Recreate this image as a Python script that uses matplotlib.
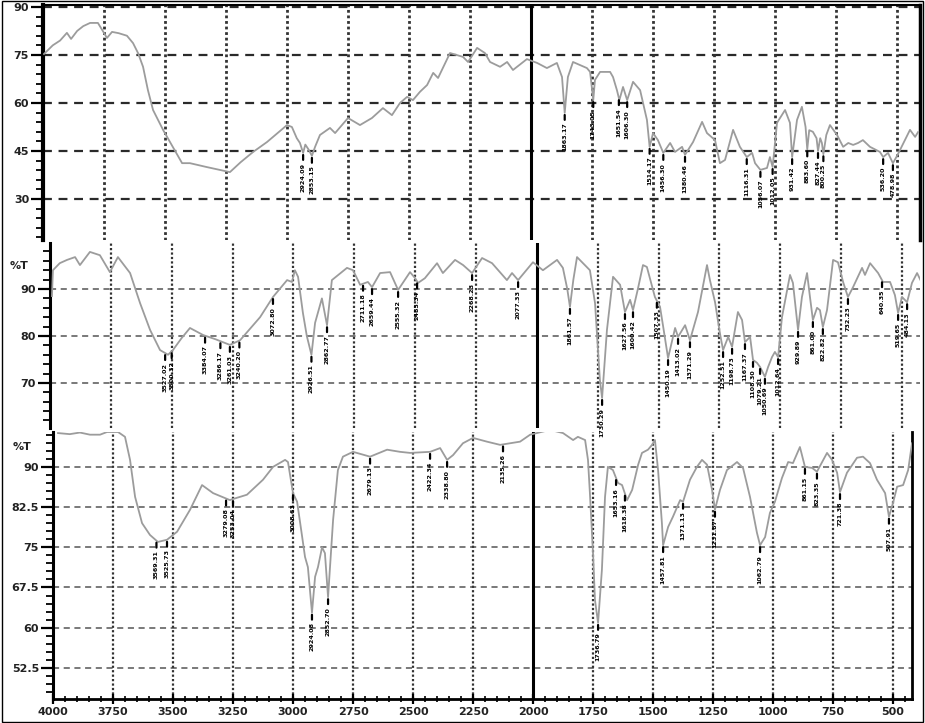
import numpy as np
import matplotlib
matplotlib.use("Agg")
import matplotlib.pyplot as plt
from matplotlib.ticker import FixedLocator, FixedFormatter, MultipleLocator
from matplotlib.patches import Rectangle

# ---------------- data ----------------
top_wn = [3996, 3960, 3930, 3902, 3885, 3860, 3835, 3807, 3775, 3755, 3738, 3717, 3690, 3656, 3631,
          3610, 3590, 3570, 3549, 3508, 3470, 3430, 3398, 3330, 3234, 3190, 3139, 3082, 3000, 2980,
          2960, 2947, 2934, 2925, 2912, 2898, 2885, 2865, 2824, 2803, 2750, 2701, 2652, 2607, 2570,
          2537, 2508, 2484, 2455, 2426, 2401, 2381, 2332, 2279, 2258, 2221, 2189, 2168, 2127, 2098,
          2074, 2017, 1975, 1935, 1894, 1873, 1862, 1849, 1828, 1771, 1758, 1745, 1738, 1717, 1676,
          1664, 1648, 1638, 1623, 1606, 1582, 1553, 1525, 1514, 1500, 1480, 1458, 1430, 1410, 1381,
          1369, 1336, 1299, 1279, 1246, 1226, 1205, 1172, 1144, 1116, 1094, 1082, 1060, 1033, 1021,
          1010, 992, 959, 939, 930, 910, 890, 875, 868, 860, 845, 830, 824, 815, 808,
          802, 790, 775, 746, 721, 700, 680, 660, 640, 611, 570, 557, 537, 517, 500,
          488, 447, 426, 414]
top_t = [75.3, 78.0, 79.5, 81.9, 80.0, 82.5, 84.0, 85.0, 85.0, 82.5, 80.3, 82.2, 81.8, 81.0, 78.7,
         75.5, 71.3, 64.0, 57.8, 51.6, 46.5, 41.2, 41.2, 40.0, 38.4, 41.5, 44.7, 47.8, 53.1, 52.5,
         49.0, 47.5, 44.4, 47.0, 45.5, 43.5, 46.3, 50.0, 52.2, 50.6, 55.3, 53.1, 55.3, 58.4, 56.2,
         60.0, 61.9, 60.9, 63.5, 65.6, 69.4, 67.8, 75.6, 74.4, 72.8, 77.2, 75.6, 72.8, 71.3, 72.8,
         70.3, 73.7, 72.5, 70.9, 72.5, 68.1, 56.9, 68.1, 72.8, 70.9, 69.7, 60.9, 67.2, 69.7, 69.7,
         68.1, 64.0, 60.9, 65.0, 60.9, 66.6, 64.0, 54.7, 46.3, 50.6, 48.4, 44.4, 47.5, 44.7, 46.3,
         43.8, 47.8, 54.1, 50.6, 48.4, 41.2, 42.2, 51.6, 46.3, 43.1, 44.4, 41.2, 39.1, 39.7, 43.1,
         40.0, 53.8, 57.8, 53.8, 43.1, 54.7, 58.8, 52.5, 45.5, 51.5, 51.0, 49.0, 45.0, 49.0, 47.5,
         44.0, 50.0, 53.1, 50.0, 46.3, 47.5, 46.9, 47.5, 48.4, 46.3, 44.7, 43.1, 44.4, 41.2, 43.5,
         45.3, 51.6, 49.4, 50.9]

mid_wn = [3992, 3988, 3960, 3930, 3897, 3877, 3836, 3795, 3754, 3721, 3671, 3630, 3589, 3548, 3515,
          3495, 3460, 3425, 3371, 3320, 3261, 3219, 3137, 3084, 3026, 3006, 2994, 2981, 2961, 2945,
          2926, 2911, 2883, 2862, 2842, 2780, 2755, 2726, 2694, 2677, 2644, 2603, 2570, 2521, 2500,
          2488, 2460, 2410, 2386, 2336, 2303, 2266, 2225, 2184, 2123, 2102, 2077, 2016, 1975, 1917,
          1893, 1875, 1864, 1850, 1835, 1782, 1761, 1741, 1732, 1722, 1712, 1687, 1658, 1638, 1617,
          1605, 1585, 1564, 1548, 1515, 1494, 1482, 1461, 1432, 1420, 1391, 1371, 1338, 1301, 1289,
          1268, 1248, 1235, 1214, 1198, 1174, 1157, 1145, 1124, 1112, 1096, 1083, 1063, 1050, 1034,
          1022, 1009, 993, 960, 948, 927, 911, 890, 878, 866, 849, 837, 825, 808, 783,
          763, 742, 722, 701, 664, 652, 631, 598, 578, 549, 529, 516, 500, 479, 459,
          438, 424]
mid_t = [88.5, 94.0, 95.5, 96.2, 96.8, 95.1, 97.9, 97.2, 93.6, 96.8, 93.4, 87.0, 81.3, 77.0, 76.0,
         77.0, 79.5, 81.7, 80.2, 79.3, 78.1, 79.1, 84.0, 88.3, 91.9, 91.5, 94.0, 92.6, 84.9, 80.0,
         76.0, 82.8, 88.0, 82.3, 91.9, 94.5, 94.0, 90.9, 91.5, 90.4, 93.4, 93.6, 89.8, 93.6, 92.3,
         91.3, 92.3, 95.5, 93.4, 96.2, 95.1, 93.4, 96.6, 95.5, 91.9, 93.4, 91.9, 95.7, 94.0, 96.2,
         94.5, 90.0, 86.2, 92.0, 96.8, 94.0, 87.0, 70.6, 66.8, 74.0, 81.3, 92.6, 90.9, 85.1, 87.7,
         85.5, 90.0, 95.1, 94.7, 88.3, 86.2, 82.3, 75.3, 81.7, 79.8, 82.3, 79.1, 85.1, 95.1, 91.9,
         87.2, 80.6, 77.0, 79.8, 77.7, 85.1, 83.4, 78.7, 79.8, 74.9, 74.3, 73.4, 71.3, 73.4, 75.5,
         76.6, 75.5, 84.0, 93.0, 91.3, 81.3, 88.3, 93.4, 88.3, 83.4, 86.0, 85.5, 81.9, 85.5, 96.2,
         95.7, 91.5, 88.3, 90.4, 94.5, 93.0, 95.5, 93.4, 91.5, 91.5, 88.7, 84.9, 88.3, 87.2, 91.3,
         93.4, 91.9]

bot_wn = [3979, 3930, 3888, 3846, 3804, 3775, 3729, 3700, 3679, 3658, 3629, 3596, 3563, 3525, 3483,
          3429, 3379, 3333, 3263, 3250, 3192, 3125, 3083, 3033, 3021, 3000, 2983, 2963, 2950, 2938,
          2921, 2908, 2896, 2879, 2867, 2854, 2833, 2813, 2792, 2750, 2679, 2608, 2554, 2512, 2429,
          2387, 2358, 2333, 2292, 2250, 2192, 2137, 2054, 2012, 1929, 1875, 1833, 1813, 1783, 1771,
          1763, 1750, 1742, 1729, 1713, 1700, 1688, 1667, 1646, 1629, 1608, 1587, 1562, 1546, 1521,
          1504, 1492, 1479, 1463, 1458, 1437, 1417, 1387, 1375, 1346, 1317, 1296, 1275, 1254, 1242,
          1221, 1192, 1150, 1125, 1096, 1067, 1054, 1033, 1013, 992, 963, 937, 917, 888, 867,
          837, 817, 775, 754, 733, 721, 692, 650, 625, 596, 567, 533, 517, 500, 483,
          458, 437, 421]
bot_t = [96.3, 96.1, 96.4, 96.0, 96.0, 96.5, 96.5, 95.6, 91.3, 84.4, 79.5, 77.3, 76.0, 76.4, 77.9,
         82.0, 86.6, 85.1, 83.8, 84.0, 84.8, 87.6, 90.0, 91.3, 90.9, 85.1, 83.5, 77.3, 73.2, 71.3,
         62.8, 69.5, 71.3, 75.0, 73.9, 65.7, 80.1, 89.4, 91.9, 92.8, 91.9, 93.2, 92.8, 92.6, 92.8,
         93.5, 91.3, 92.2, 94.4, 95.4, 94.7, 94.1, 94.7, 96.0, 96.9, 96.3, 95.0, 95.6, 95.0, 91.3,
         85.1, 73.9, 65.2, 60.9, 70.8, 84.4, 90.0, 89.4, 87.0, 86.6, 83.8, 85.7, 90.4, 92.6, 93.2,
         94.1, 95.0, 89.4, 79.5, 75.4, 78.8, 80.7, 83.8, 83.5, 87.6, 90.0, 91.3, 90.4, 85.7, 82.0,
         85.7, 89.4, 90.9, 89.8, 84.4, 77.7, 75.4, 76.9, 81.4, 83.5, 87.9, 90.9, 90.7, 93.7, 90.0,
         89.8, 89.1, 92.6, 91.3, 88.9, 85.3, 88.9, 91.7, 91.9, 90.7, 87.6, 85.1, 80.7, 83.3, 86.3,
         86.6, 89.4, 94.4]

# peak labels
top_lbl_wn = [2934, 2898, 1862, 1745, 1640, 1606, 1514, 1458, 1369, 1116, 1060, 1010, 930, 868, 824, 802, 557, 517]
top_lbl = ["2924.09", "2853.15", "1863.17", "1743.05", "1651.54", "1606.30", "1514.17", "1456.30",
           "1380.46", "1116.31", "1056.07", "1012.05", "931.42", "883.60", "827.44", "800.25",
           "536.20", "478.98"]
mid_lbl_wn = [3527, 3500, 3363, 3300, 3261, 3222, 3084, 2926, 2862, 2714, 2677, 2570, 2492, 2266,
              2077, 1864, 1732, 1638, 1605, 1507, 1461, 1420, 1371, 1235, 1198, 1145, 1112, 1083,
              1063, 1009, 927, 866, 825, 722, 582, 516, 479]
mid_lbl = ["3527.02", "3500.32", "3384.07", "3286.17", "3261.03", "3240.20", "3072.80", "2926.51",
           "2862.77", "2711.18", "2659.44", "2555.32", "2483.34", "2268.23", "2077.33", "1861.57",
           "1730.29", "1627.56", "1600.42", "1507.33", "1450.19", "1413.02", "1371.29", "1252.51",
           "1198.73", "1167.37", "1108.30", "1079.21", "1050.69", "1012.64", "929.89", "861.00",
           "822.82", "732.23", "640.35", "519.65", "484.13"]
bot_lbl_wn = [3569, 3525, 3279, 3250, 3000, 2921, 2854, 2679, 2429, 2358, 2125, 1729, 1654, 1617,
              1458, 1375, 1242, 1054, 867, 817, 721, 517]
bot_lbl = ["3569.31", "3525.73", "3279.08", "3253.04", "3008.63", "2924.08", "2852.70", "2679.13",
           "2422.34", "2338.80", "2135.26", "1736.79", "1653.16", "1618.38", "1457.81", "1371.13",
           "1231.87", "1062.79", "861.15", "823.35", "721.38", "507.91"]

x_major = [4000, 3750, 3500, 3250, 3000, 2750, 2500, 2250, 2000, 1750, 1500, 1250, 1000, 750, 500]
x_split = 2000
top_yt = [30, 45, 60, 75, 90]
mid_yt = [70, 80, 90]
bot_yt = [52.5, 60, 67.5, 75, 82.5, 90]

# ---------------- figure ----------------
W, H = 925, 723
fig = plt.figure(figsize=(W / 100, H / 100), dpi=100)
fig.patch.set_facecolor("white")


def add_ax(l, r, t, b):
    ax = fig.add_axes([l / W, 1 - b / H, (r - l) / W, (b - t) / H])
    ax.set_facecolor("none")
    return ax


ax_top = add_ax(43, 920, 5, 240)
ax_mid = add_ax(50, 920, 243, 428)
ax_bot = add_ax(53, 912, 432, 699)

ax_top.set_xlim(4000, 406)
ax_top.set_ylim(17.2, 90.6)
ax_mid.set_xlim(4000, 426)
ax_mid.set_ylim(60.4, 99.8)
ax_bot.set_xlim(4000, 421)
ax_bot.set_ylim(46.7, 96.5)

line_color = "#9c9c9c"
tick_font = dict(family="DejaVu Sans", size=8, weight="bold")


def style(ax, yt, ylabels, minor_y, grid_lw, grid_col, vgrid_lw, spine_lw):
    for s in ax.spines.values():
        s.set_visible(False)
    ax.spines["left"].set_visible(True)
    ax.spines["left"].set_linewidth(spine_lw)
    ax.yaxis.set_major_locator(FixedLocator(yt))
    ax.yaxis.set_major_formatter(FixedFormatter(ylabels))
    ax.yaxis.set_minor_locator(MultipleLocator(minor_y))
    ax.tick_params(axis="y", which="major", direction="out", length=9, width=1.6, pad=1,
                   labelsize=8)
    ax.tick_params(axis="y", which="minor", direction="out", length=5, width=1.3)
    for lab in ax.get_yticklabels():
        lab.set_fontweight("bold")
        lab.set_color("#222222")
    for y in yt:
        ax.axhline(y, color=grid_col, lw=grid_lw, ls=(0, (4, 3)), zorder=1)
    for x in x_major:
        if x in (4000, x_split):
            continue
        ax.axvline(x, color="#333333", lw=vgrid_lw, ls=(0, (1, 1)), zorder=1)
    ax.axvline(x_split, color="black", lw=2.2, zorder=3)


style(ax_top, top_yt, [str(v) for v in top_yt], 3, 1.6, "#2a2a2a", 2.0, 3.0)
style(ax_mid, mid_yt, [str(v) for v in mid_yt], 2, 1.1, "#555555", 1.6, 2.2)
style(ax_bot, bot_yt, ["52.5", "60", "67.5", "75", "82.5", "90"], 1.5, 1.1, "#555555", 1.6, 2.2)

ax_top.spines["top"].set_visible(True)
ax_top.spines["top"].set_linewidth(1.5)
ax_top.spines["right"].set_visible(True)
ax_top.spines["right"].set_linewidth(2.5)
ax_top.tick_params(axis="x", which="both", bottom=False, labelbottom=False)
ax_mid.tick_params(axis="x", which="both", bottom=False, labelbottom=False)

ax_bot.spines["bottom"].set_visible(True)
ax_bot.spines["bottom"].set_linewidth(2.0)
ax_bot.spines["right"].set_visible(True)
ax_bot.spines["right"].set_linewidth(2.0)
ax_bot.xaxis.set_major_locator(FixedLocator(x_major))
ax_bot.xaxis.set_minor_locator(MultipleLocator(50))
ax_bot.tick_params(axis="x", which="major", direction="inout", length=7, width=1.6, pad=2,
                   labelsize=8)
ax_bot.tick_params(axis="x", which="minor", direction="inout", length=4, width=1.2)
for lab in ax_bot.get_xticklabels():
    lab.set_fontweight("bold")
    lab.set_color("#222222")

ax_mid.text(-0.035, 95, "%T", transform=ax_mid.get_yaxis_transform(), ha="center", va="center",
            fontsize=8, fontweight="bold", color="#222222")
ax_bot.text(-0.036, 93.7, "%T", transform=ax_bot.get_yaxis_transform(), ha="center", va="center",
            fontsize=8, fontweight="bold", color="#222222")

# spectra and peak labels
for ax, wn, tr, lwn, ltxt in [(ax_top, top_wn, top_t, top_lbl_wn, top_lbl),
                              (ax_mid, mid_wn, mid_t, mid_lbl_wn, mid_lbl),
                              (ax_bot, bot_wn, bot_t, bot_lbl_wn, bot_lbl)]:
    ax.plot(wn, tr, color=line_color, lw=1.3, zorder=4)
    w_arr = np.array(wn)[::-1]
    t_arr = np.array(tr)[::-1]
    for x, txt in zip(lwn, ltxt):
        y = np.interp(x, w_arr, t_arr)
        ax.annotate(txt, xy=(x, y), xytext=(0, -7), textcoords="offset points",
                    rotation=90, ha="center", va="top", fontsize=4.6, fontweight="bold",
                    color="black", zorder=5, annotation_clip=False,
                    arrowprops=dict(arrowstyle="-", lw=1.6, color="black",
                                    shrinkA=0, shrinkB=1.5))

fig.patches.append(Rectangle((0.002, 0.002), 0.996, 0.996, transform=fig.transFigure,
                             fill=False, lw=1.0, edgecolor="black"))

fig.savefig("out.png", dpi=100, facecolor="white")
